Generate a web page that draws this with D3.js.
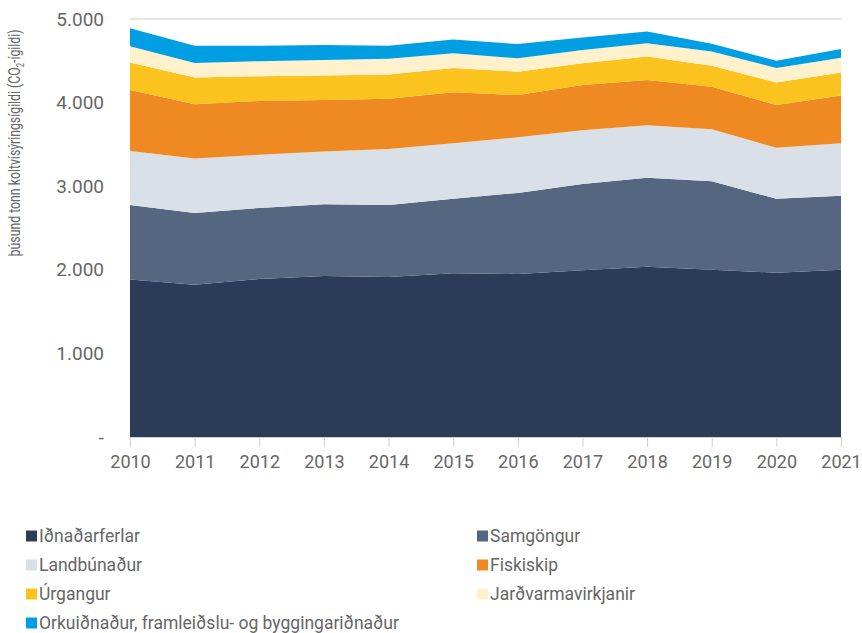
<!DOCTYPE html>
<html><head><meta charset="utf-8">
<script src="https://cdn.jsdelivr.net/npm/d3@7"></script>
<style>
body{margin:0;background:#fff;}
svg text{font-family:Roboto,"Open Sans",sans-serif;fill:#666;}
</style></head>
<body><svg id="c" width="862" height="633"></svg>
<script>
const years = [2010,2011,2012,2013,2014,2015,2016,2017,2018,2019,2020,2021];
const seriesNames = ["Iðnaðarferlar","Samgöngur","Landbúnaður","Fiskiskip","Úrgangur","Jarðvarmavirkjanir","Orkuiðnaður, framleiðslu- og byggingariðnaður"];
const idnadarferlar = [1885,1820,1890,1925,1915,1960,1950,1995,2035,2000,1965,2000];
const samgongur     = [890,860,850,860,860,890,970,1030,1065,1060,885,885];
const landbunadur   = [645,650,635,630,670,665,665,645,630,620,610,630];
const fiskiskip     = [730,650,645,615,600,610,505,540,540,510,510,570];
const urgangur      = [330,320,295,295,290,290,280,260,280,250,270,275];
const jardvarmi     = [195,175,180,185,190,175,160,160,160,170,175,175];
const orkuidnadur   = [215,205,185,180,155,165,170,150,140,95,85,105];
const colors = ["#2a3c58","#556680","#d9e0e8","#ef8a22","#fcc31e","#fff1cc","#009fe3"];
const yTicks = [0,1000,2000,3000,4000,5000];

const seriesVals = [idnadarferlar,samgongur,landbunadur,fiskiskip,urgangur,jardvarmi,orkuidnadur];
const rows = years.map((y,i)=>{const r={year:y}; seriesNames.forEach((n,k)=>r[n]=seriesVals[k][i]); return r;});

const svg = d3.select("#c");
const x = d3.scaleLinear().domain([2010,2021]).range([130,841]);
const y = d3.scaleLinear().domain([0,5000]).range([437,19]);

// gridlines
svg.append("g").selectAll("line").data(yTicks.filter(d=>d>0)).join("line")
  .attr("x1",130).attr("x2",841).attr("y1",d=>y(d)).attr("y2",d=>y(d))
  .attr("stroke","#dcdcdc").attr("stroke-width",1.5);

const stack = d3.stack().keys(seriesNames)(rows);
const area = d3.area().x(d=>x(d.data.year)).y0(d=>y(d[0])).y1(d=>y(d[1]));
svg.append("g").selectAll("path").data(stack).join("path")
  .attr("d",area).attr("fill",(d,i)=>colors[i]);

// x axis
const xa = svg.append("g").attr("transform","translate(0,437)")
  .call(d3.axisBottom(x).tickValues(years).tickFormat(d3.format("d")).tickSize(10).tickPadding(8));
xa.select(".domain").attr("stroke","#d0d0d0");
xa.selectAll(".tick line").attr("stroke","#d0d0d0");
xa.selectAll("text").style("font-size","18px").style("font-weight",400).attr("fill","#6a6a6a");

// y axis
const loc = d3.formatLocale({decimal:",",thousands:".",grouping:[3],currency:["","kr."]});
const fmt = loc.format(",d");
const ya = svg.append("g").attr("transform","translate(104,0)")
  .call(d3.axisLeft(y).tickValues(yTicks).tickFormat(d=>d===0?"-":fmt(d)).tickSize(0).tickPadding(0));
ya.select(".domain").remove();
ya.selectAll("text").style("font-size","19px").style("font-weight",400).attr("fill","#6a6a6a");

// y title
const t = svg.append("text").attr("transform","translate(20,143) rotate(-90)")
  .attr("text-anchor","middle").style("font-size","16px").style("font-weight",400).attr("fill","#6a6a6a")
  .attr("textLength",227).attr("lengthAdjust","spacingAndGlyphs");
t.append("tspan").text("þúsund tonn koltvísýringsígildi (CO");
t.append("tspan").text("2").attr("dy","4").style("font-size","10px");
t.append("tspan").text("-ígildi)").attr("dy","-4");

// legend
const lg = svg.append("g");
seriesNames.forEach((n,i)=>{
  const col = i%2, row = Math.floor(i/2);
  const gx = col===0?26:477, gy = 536 + row*29;
  lg.append("rect").attr("x",gx).attr("y",gy-5.5).attr("width",11).attr("height",11).attr("fill",colors[i]);
  lg.append("text").attr("x",gx+13).attr("y",gy).attr("dy","0.35em").style("font-size","17.5px").style("font-weight",400).attr("fill","#6a6a6a").text(n);
});
</script></body></html>
